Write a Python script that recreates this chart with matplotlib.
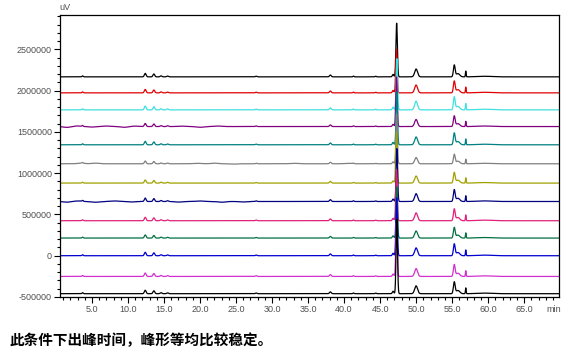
import numpy as np
import matplotlib
matplotlib.use('Agg')
import matplotlib.pyplot as plt
from matplotlib.ticker import MultipleLocator, FuncFormatter

# 13 overlaid chromatograms, listed top to bottom
offsets = [2167000, 1973000, 1767000, 1565000, 1344000, 1114000, 880000,
           657000, 424000, 214000, 0, -251000, -460000]
colors = ['#000000', '#e00000', '#40e0e0', '#800080', '#008080', '#808080',
          '#a0a000', '#000080', '#e0207a', '#007040', '#0000d0', '#d030d0',
          '#000000']
main_heights = [650000, 530000, 620000, 600000, 640000, 600000, 620000,
                640000, 620000, 620000, 700000, 650000, 900000]
main_shift = [0.0, -0.03, 0.03, -0.02, 0.02, 0.0, -0.03, 0.03, -0.02, 0.02,
              0.0, -0.02, 0.02]
minor_scale = [1.0, 1.0, 1.1, 0.9, 1.0, 0.8, 0.9, 1.0, 1.0, 0.9, 1.0, 1.0, 1.0]

# peak table (retention time min, sigma min, height uV) for minor peaks
peak_times = [3.7, 12.4, 13.6, 14.6, 15.5, 27.8, 38.1, 41.3, 44.4, 46.8,
              50.0, 55.3, 55.8, 56.9, 59.5]
peak_widths = [0.08, 0.12, 0.12, 0.12, 0.12, 0.1, 0.12, 0.08, 0.08, 0.1,
               0.2, 0.12, 0.25, 0.05, 1.0]
peak_heights = [12000, 42000, 35000, 12000, 10000, 8000, 22000, 9000, 7000,
                30000, 95000, 140000, 40000, 70000, 7000]
main_time = 47.3
main_width = 0.1

# baseline wobble on the noisier runs (purple, gray, navy)
wobble_traces = [3, 5, 7]
wobble_times = [[1.5, 3.0, 5.0, 7.0, 9.5, 11.0, 17.5, 20.0, 22.5],
                [3.5, 5.5, 19.5, 22.0, 24.5, 33.0, 40.5],
                [1.5, 3.0, 5.5, 8.0, 10.5, 17.0, 20.0, 23.0, 26.0]]
wobble_amps = [[-10000, 7000, -6000, 6000, -9000, 5000, 5000, -9000, 6000],
               [7000, 8000, 6000, 7000, -5000, 6000, 5000],
               [-8000, 6000, -9000, 7000, -6000, -7000, 6000, -9000, -6000]]

x_ticks = [5.0, 10.0, 15.0, 20.0, 25.0, 30.0, 35.0, 40.0, 45.0, 50.0, 55.0, 60.0, 65.0]
y_ticks = [-500000, 0, 500000, 1000000, 1500000, 2000000, 2500000]

t = np.arange(0.0, 70.0, 0.01)


def gauss(tp, w, h):
    return h * np.exp(-0.5 * ((t - tp) / w) ** 2)


fig = plt.figure(figsize=(5.75, 3.55), dpi=100)
ax = fig.add_axes([0.1035, 0.1634, 0.8682, 0.7952])

for i in range(len(offsets)):
    y = np.full_like(t, offsets[i], dtype=float)
    for tp, w, h in zip(peak_times, peak_widths, peak_heights):
        y += gauss(tp, w, h * minor_scale[i])
    y += gauss(main_time + main_shift[i], main_width, main_heights[i])
    if i in wobble_traces:
        k = wobble_traces.index(i)
        for tp, a in zip(wobble_times[k], wobble_amps[k]):
            y += gauss(tp, 0.5, a)
    ax.plot(t, y, color=colors[i], lw=0.9)

ax.set_xlim(0.5, 69.8)
ax.set_ylim(-500000, 2920000)
ax.set_xticks(x_ticks)
ax.set_yticks(y_ticks)
ax.xaxis.set_minor_locator(MultipleLocator(1.0))
ax.yaxis.set_minor_locator(MultipleLocator(100000))
ax.xaxis.set_major_formatter(FuncFormatter(lambda v, p: f'{v:.1f}'))
ax.yaxis.set_major_formatter(FuncFormatter(lambda v, p: f'{int(v)}'))

tick_font = ['Liberation Sans Narrow', 'Liberation Sans', 'DejaVu Sans']
ax.tick_params(which='major', direction='out', length=4, width=0.8,
               labelsize=6.5, labelcolor='#505050', pad=1.5)
ax.tick_params(which='minor', direction='out', length=2.5, width=0.8)
for lab in ax.get_xticklabels() + ax.get_yticklabels():
    lab.set_family(tick_font)
for s in ax.spines.values():
    s.set_linewidth(0.9)

ax.text(0.99, -0.03, 'min', transform=ax.transAxes, ha='center', va='top',
        fontsize=6.5, color='#505050', family=tick_font)
ax.text(0.0, 1.01, 'uV', transform=ax.transAxes, ha='left', va='bottom',
        fontsize=6.5, color='#505050', family=tick_font)

fig.text(0.017, 0.043, '此条件下出峰时间，峰形等均比较稳定。', ha='left', va='center',
         fontsize=10.5, fontweight='bold', family=['Noto Sans CJK SC', 'DejaVu Sans'])

fig.savefig('out.png', dpi=100)
